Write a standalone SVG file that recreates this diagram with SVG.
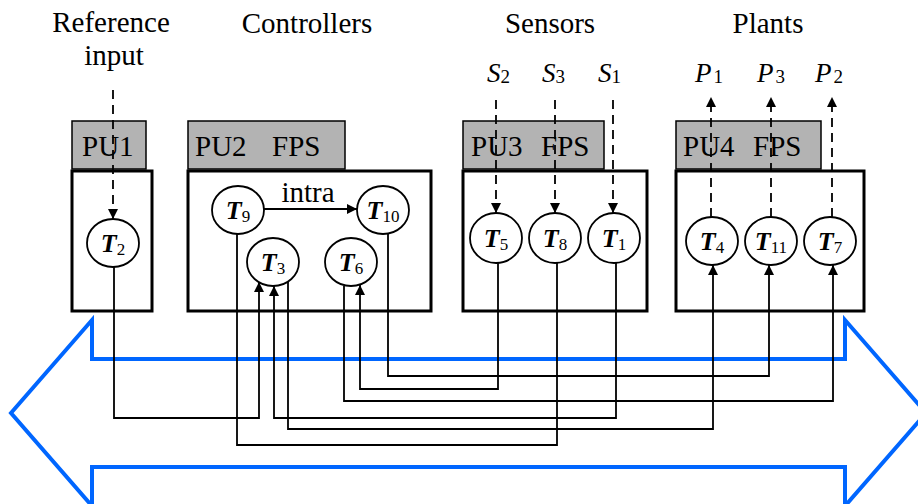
<svg xmlns="http://www.w3.org/2000/svg" width="918" height="504" viewBox="0 0 918 504" font-family="'Liberation Serif', 'Times New Roman', 'DejaVu Serif', serif">
<style>
text{font-family:'Liberation Serif','Times New Roman','DejaVu Serif',serif;fill:#000}
.t{font-size:29px}
.hdr{fill:#b3b3b3;stroke:#000;stroke-width:1.5}
.box{fill:none;stroke:#000;stroke-width:3}
.nd{fill:#fff;stroke:#000;stroke-width:1.8}
.lbl{font-size:26px;font-weight:bold;font-style:italic;text-anchor:middle}
.sub{font-size:17px;font-weight:normal;font-style:normal}
.ln{fill:none;stroke:#000;stroke-width:1.8}
.ds{fill:none;stroke:#000;stroke-width:1.8;stroke-dasharray:9,6}
.io{font-size:27px;font-style:italic}
.ios{font-size:19px;font-style:normal}
</style>
<defs>
<marker id="ah" viewBox="0 0 10 10" refX="10" refY="5" markerUnits="userSpaceOnUse" markerWidth="11" markerHeight="10" orient="auto">
<path d="M0,0 L10,5 L0,10 z" fill="#000"/>
</marker>
</defs>

<g id="bus">
<polygon points="11,413 92,320 92,359 845,359 845,320 926,413 845,506 845,467 92,467 92,506" fill="none" stroke="#0066ff" stroke-width="4" stroke-linejoin="miter"/>
</g>

<g id="titles">
<text class="t" x="111" y="32" text-anchor="middle">Reference</text>
<text class="t" x="114" y="65" text-anchor="middle">input</text>
<text class="t" x="307" y="33" text-anchor="middle">Controllers</text>
<text class="t" x="550" y="33" text-anchor="middle">Sensors</text>
<text class="t" x="768" y="33" text-anchor="middle">Plants</text>
<text class="io" x="487" y="82">S<tspan class="ios" dy="1">2</tspan></text>
<text class="io" x="542" y="82">S<tspan class="ios" dy="1">3</tspan></text>
<text class="io" x="598" y="82">S<tspan class="ios" dy="1">1</tspan></text>
<text class="io" x="695" y="82">P<tspan class="ios" dx="2" dy="1">1</tspan></text>
<text class="io" x="757" y="82">P<tspan class="ios" dx="2" dy="1">3</tspan></text>
<text class="io" x="815" y="82">P<tspan class="ios" dx="2" dy="1">2</tspan></text>
</g>

<g id="PU1">
<rect class="hdr" x="72" y="121" width="74" height="48"/>
<text class="t" x="82" y="156">PU1</text>
<rect class="box" x="72" y="171" width="80" height="140"/>
</g>
<g id="PU2">
<rect class="hdr" x="188" y="121" width="157" height="48"/>
<text class="t" x="195" y="156">PU2</text>
<text class="t" x="272" y="156">FPS</text>
<rect class="box" x="188" y="171" width="243" height="140"/>
</g>
<g id="PU3">
<rect class="hdr" x="463" y="121" width="141" height="48"/>
<text class="t" x="471" y="156">PU3</text>
<text class="t" x="541" y="156">FPS</text>
<rect class="box" x="463" y="171" width="184" height="140"/>
</g>
<g id="PU4">
<rect class="hdr" x="676" y="121" width="145" height="48"/>
<text class="t" x="683" y="156">PU4</text>
<text class="t" x="753" y="156">FPS</text>
<rect class="box" x="676" y="171" width="188" height="140"/>
</g>

<g id="connectors">
<line class="ds" x1="113" y1="90" x2="113" y2="219" marker-end="url(#ah)"/>
<line class="ds" x1="496" y1="100" x2="496" y2="213" marker-end="url(#ah)"/>
<line class="ds" x1="555" y1="100" x2="555" y2="213" marker-end="url(#ah)"/>
<line class="ds" x1="613" y1="100" x2="613" y2="213" marker-end="url(#ah)"/>
<line class="ds" x1="711" y1="217" x2="711" y2="97" marker-end="url(#ah)"/>
<line class="ds" x1="771" y1="217" x2="771" y2="97" marker-end="url(#ah)"/>
<line class="ds" x1="832" y1="217" x2="832" y2="97" marker-end="url(#ah)"/>
<line class="ln" x1="264" y1="209" x2="357" y2="209" marker-end="url(#ah)"/>
<text class="t" x="308" y="202" text-anchor="middle">intra</text>
<polyline class="ln" points="114,267 114,418 259,418 259,282" marker-end="url(#ah)"/>
<polyline class="ln" points="616,263 616,418 274,418 274,286" marker-end="url(#ah)"/>
<polyline class="ln" points="288,282 288,429 713,429 713,265" marker-end="url(#ah)"/>
<polyline class="ln" points="237,234 237,445 557,445 557,263"/>
<polyline class="ln" points="344,286 344,401 833,401 833,265" marker-end="url(#ah)"/>
<polyline class="ln" points="498,263 498,389 360,389 360,285" marker-end="url(#ah)"/>
<polyline class="ln" points="388,234 388,376 769,376 769,265" marker-end="url(#ah)"/>
</g>

<g id="T2"><ellipse class="nd" cx="113" cy="243" rx="26" ry="24"/><text class="lbl" x="113" y="252">T<tspan class="sub" dy="3">2</tspan></text></g>
<g id="T9"><ellipse class="nd" cx="238" cy="210" rx="26" ry="24"/><text class="lbl" x="238" y="219">T<tspan class="sub" dy="3">9</tspan></text></g>
<g id="T10"><ellipse class="nd" cx="383" cy="210" rx="26" ry="24"/><text class="lbl" x="383" y="219">T<tspan class="sub" dy="3">10</tspan></text></g>
<g id="T3"><ellipse class="nd" cx="273" cy="262" rx="26" ry="24"/><text class="lbl" x="273" y="271">T<tspan class="sub" dy="3">3</tspan></text></g>
<g id="T6"><ellipse class="nd" cx="351" cy="262" rx="26" ry="24"/><text class="lbl" x="351" y="271">T<tspan class="sub" dy="3">6</tspan></text></g>
<g id="T5"><ellipse class="nd" cx="496" cy="238" rx="26" ry="25"/><text class="lbl" x="496" y="247">T<tspan class="sub" dy="3">5</tspan></text></g>
<g id="T8"><ellipse class="nd" cx="555" cy="238" rx="26" ry="25"/><text class="lbl" x="555" y="247">T<tspan class="sub" dy="3">8</tspan></text></g>
<g id="T1"><ellipse class="nd" cx="614" cy="238" rx="26" ry="25"/><text class="lbl" x="614" y="247">T<tspan class="sub" dy="3">1</tspan></text></g>
<g id="T4"><ellipse class="nd" cx="712" cy="241" rx="26" ry="24"/><text class="lbl" x="712" y="250">T<tspan class="sub" dy="3">4</tspan></text></g>
<g id="T11"><ellipse class="nd" cx="771" cy="241" rx="26" ry="24"/><text class="lbl" x="771" y="250">T<tspan class="sub" dy="3">11</tspan></text></g>
<g id="T7"><ellipse class="nd" cx="830" cy="241" rx="26" ry="24"/><text class="lbl" x="830" y="250">T<tspan class="sub" dy="3">7</tspan></text></g>
</svg>
